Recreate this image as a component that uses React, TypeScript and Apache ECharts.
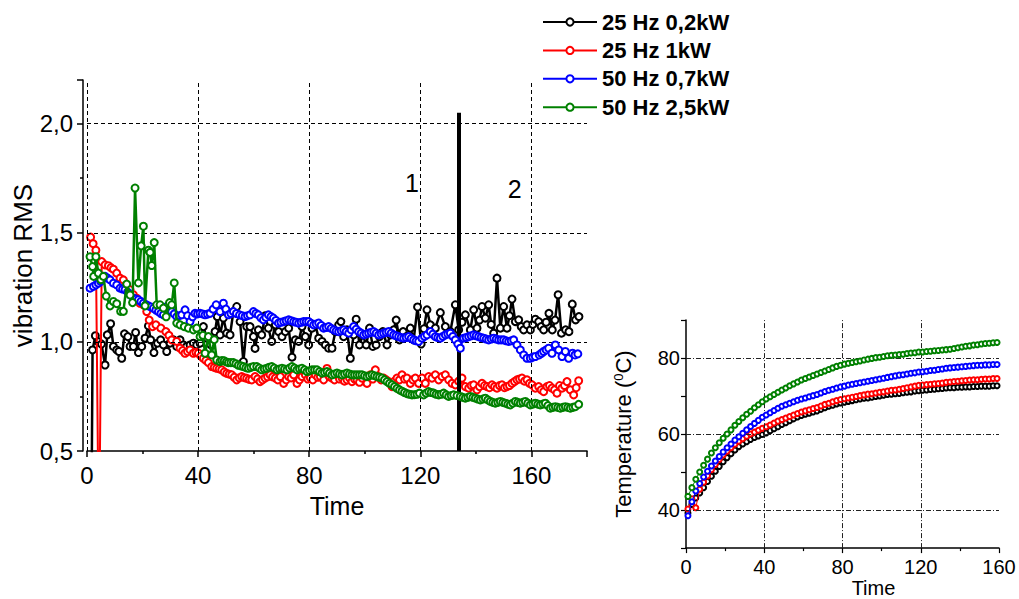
import React, { useEffect, useRef } from 'react';
import * as echarts from 'echarts';

const SERIES_NAMES = ['25 Hz 0,2kW', '25 Hz 1kW', '50 Hz 0,7kW', '50 Hz 2,5kW'];
const COLORS = ['#000000', '#ff0000', '#0000ff', '#008000'];

// Main chart: vibration RMS vs time, [time, value]
const VIB_BLACK: [number, number][] = [
  [1.5, 0.0], [2.0, 0.963], [3.0, 1.028], [4.1, 1.0], [5.2, 0.99], [6.5, 0.894], [7.3, 1.032], [8.5, 1.083],
  [9.5, 0.979], [10.7, 0.963], [11.5, 0.956], [12.5, 0.925], [13.5, 1.037], [14.7, 1.024], [15.5, 0.979],
  [16.7, 0.979], [17.5, 1.043], [18.5, 0.951], [19.7, 0.979], [20.9, 1.017], [22.1, 1.073], [22.9, 1.009],
  [24.1, 0.951], [25.4, 0.994], [26.5, 1.009], [27.5, 0.986], [28.7, 0.956], [29.9, 0.994], [31.1, 1.009],
  [32.3, 0.979], [33.5, 1.009], [34.7, 0.986], [35.9, 0.979], [37.1, 0.986], [38.3, 0.994], [39.5, 0.986],
  [40.7, 0.994], [41.9, 1.07], [43.1, 1.017], [44.6, 0.986], [46.1, 1.047], [46.9, 1.116], [47.9, 1.032],
  [49.1, 1.109], [50.3, 1.04], [51.5, 1.032], [52.7, 1.139], [53.9, 1.162], [55.1, 1.093], [56.3, 0.91],
  [57.5, 1.07], [58.7, 1.07], [59.9, 1.024], [60.5, 0.97], [61.7, 1.055], [62.9, 1.032], [64.1, 1.119],
  [65.3, 1.063], [66.5, 1.002], [67.8, 1.078], [69.0, 1.047], [70.2, 1.024], [71.4, 1.047], [72.6, 1.063],
  [73.8, 0.93], [75.0, 1.009], [76.2, 1.002], [77.4, 1.07], [78.6, 1.024], [79.8, 0.986], [81.0, 1.063],
  [82.2, 1.078], [83.4, 1.017], [84.6, 1.002], [85.8, 0.986], [87.0, 0.971], [88.2, 0.971], [89.4, 1.047],
  [90.6, 1.078], [91.4, 1.093], [92.4, 1.024], [93.6, 1.055], [94.8, 0.925], [96.0, 1.032], [96.9, 1.104],
  [98.1, 0.986], [99.3, 1.032], [100.5, 0.986], [101.7, 1.063], [102.9, 0.979], [104.1, 0.986], [105.3, 1.024],
  [106.5, 1.047], [108.0, 0.986], [109.2, 1.032], [110.4, 1.055], [111.3, 1.1], [112.5, 1.009], [113.8, 1.047],
  [115.0, 1.024], [116.4, 1.063], [117.6, 1.009], [119.0, 1.16], [120.3, 0.99], [121.3, 1.06], [122.4, 1.147],
  [123.6, 1.078], [125.4, 1.063], [127.2, 1.134], [129.0, 1.07], [130.8, 1.047], [132.6, 1.17], [133.8, 1.055],
  [135.0, 1.09], [136.2, 1.124], [138.0, 1.055], [139.2, 1.147], [140.4, 1.063], [141.3, 1.1], [142.2, 1.162],
  [143.4, 1.109], [144.6, 1.17], [145.5, 1.08], [146.4, 1.04], [147.6, 1.292], [148.8, 1.063], [150.0, 1.162],
  [151.2, 1.063], [152.1, 1.12], [153.0, 1.196], [154.2, 1.093], [155.4, 1.101], [156.3, 1.07], [157.2, 1.055],
  [158.4, 1.078], [159.6, 1.055], [160.5, 1.08], [161.4, 1.104], [162.6, 1.093], [163.5, 1.07], [164.4, 1.055],
  [165.3, 1.09], [166.3, 1.131], [167.5, 1.055], [168.5, 1.1], [169.6, 1.216], [170.8, 1.04], [172.3, 1.055],
  [173.5, 1.047], [174.7, 1.173], [175.9, 1.101], [177.1, 1.116],
];

const VIB_RED: [number, number][] = [
  [1.3, 1.48], [2.2, 1.45], [3.2, 1.42], [4.3, 0.0], [5.3, 1.368], [6.5, 1.353], [7.7, 1.349], [8.6, 1.34],
  [9.5, 1.333], [10.7, 1.315], [11.9, 1.292], [13.1, 1.284], [14.3, 1.254], [15.5, 1.239], [16.7, 1.216],
  [17.9, 1.2], [19.1, 1.177], [20.3, 1.17], [21.5, 1.139], [22.4, 1.1], [23.6, 1.07], [24.8, 1.078],
  [26.6, 1.063], [28.4, 1.047], [29.5, 1.03], [30.5, 1.009], [32.3, 1.002], [33.5, 0.971], [34.4, 0.96],
  [35.3, 0.948], [36.2, 0.955], [37.1, 0.963], [38.3, 0.948], [39.2, 0.952], [40.1, 0.948], [41.0, 0.935],
  [41.9, 0.925], [42.8, 0.915], [43.7, 0.905], [44.9, 0.887], [45.8, 0.883], [46.7, 0.879], [47.6, 0.876],
  [48.5, 0.872], [49.4, 0.862], [50.3, 0.856], [51.2, 0.852], [52.1, 0.849], [53.0, 0.838], [53.9, 0.826],
  [54.8, 0.835], [55.7, 0.841], [56.6, 0.836], [57.5, 0.833], [58.4, 0.828], [59.3, 0.826], [60.5, 0.841],
  [61.4, 0.83], [62.3, 0.818], [63.2, 0.826], [64.1, 0.834], [65.0, 0.84], [65.9, 0.849], [66.8, 0.84],
  [67.8, 0.834], [68.7, 0.826], [69.6, 0.841], [70.8, 0.81], [71.7, 0.826], [72.6, 0.841], [73.5, 0.835],
  [74.4, 0.849], [75.6, 0.81], [76.5, 0.826], [77.4, 0.841], [78.6, 0.849], [79.5, 0.83], [80.4, 0.834],
  [81.3, 0.826], [82.2, 0.849], [83.1, 0.838], [84.0, 0.841], [85.2, 0.826], [86.4, 0.878], [87.3, 0.84],
  [88.2, 0.834], [89.1, 0.826], [90.0, 0.849], [90.9, 0.83], [91.8, 0.834], [92.7, 0.82], [93.6, 0.826],
  [94.5, 0.834], [95.4, 0.818], [96.3, 0.83], [97.2, 0.826], [98.1, 0.815], [99.0, 0.834], [100.8, 0.81],
  [102.0, 0.849], [102.9, 0.83], [103.8, 0.872], [105.0, 0.841], [105.9, 0.826], [106.8, 0.834], [107.7, 0.826],
  [108.6, 0.818], [109.8, 0.795], [110.7, 0.82], [111.6, 0.834], [112.5, 0.826], [113.4, 0.849], [114.3, 0.83],
  [115.2, 0.834], [116.4, 0.81], [117.3, 0.826], [118.2, 0.834], [119.4, 0.81], [120.6, 0.834], [121.8, 0.81],
  [123.0, 0.841], [124.2, 0.834], [125.4, 0.849], [126.6, 0.826], [127.8, 0.841], [129.0, 0.849],
  [130.2, 0.826], [131.4, 0.81], [132.6, 0.803], [133.8, 0.82], [135.0, 0.834], [136.2, 0.795], [137.4, 0.788],
  [138.3, 0.8], [139.2, 0.803], [140.4, 0.78], [141.3, 0.795], [142.2, 0.81], [143.1, 0.8], [144.0, 0.795],
  [144.9, 0.79], [145.8, 0.803], [146.7, 0.795], [147.6, 0.788], [148.5, 0.8], [149.4, 0.803], [150.3, 0.79],
  [151.2, 0.795], [152.1, 0.8], [153.0, 0.81], [153.9, 0.818], [154.8, 0.826], [155.7, 0.83], [156.6, 0.834],
  [157.5, 0.82], [158.4, 0.826], [159.3, 0.81], [160.2, 0.803], [161.4, 0.788], [162.6, 0.795], [163.5, 0.78],
  [164.4, 0.772], [165.6, 0.795], [166.5, 0.8], [167.4, 0.788], [168.3, 0.78], [169.2, 0.765], [170.1, 0.8],
  [171.0, 0.788], [171.9, 0.8], [172.8, 0.818], [174.0, 0.78], [175.2, 0.757], [176.1, 0.79], [177.0, 0.822],
];

const VIB_BLUE: [number, number][] = [
  [1.1, 1.246], [2.3, 1.254], [3.2, 1.261], [4.1, 1.269], [4.9, 1.277], [5.7, 1.29], [6.5, 1.3], [7.4, 1.292],
  [8.3, 1.284], [9.5, 1.269], [10.7, 1.261], [11.9, 1.246], [12.8, 1.242], [13.7, 1.239], [14.6, 1.228],
  [15.5, 1.216], [16.7, 1.2], [17.6, 1.196], [18.5, 1.193], [19.4, 1.185], [20.3, 1.177], [21.2, 1.171],
  [22.1, 1.165], [23.0, 1.16], [23.9, 1.154], [24.8, 1.146], [25.7, 1.139], [26.6, 1.13], [27.5, 1.124],
  [28.7, 1.162], [29.6, 1.15], [30.5, 1.139], [31.4, 1.128], [32.3, 1.116], [33.2, 1.12], [34.1, 1.124],
  [35.3, 1.147], [36.2, 1.12], [37.1, 1.093], [38.0, 1.115], [38.9, 1.131], [39.8, 1.128], [40.7, 1.131],
  [41.6, 1.128], [42.5, 1.124], [43.4, 1.127], [44.3, 1.131], [45.4, 1.15], [46.5, 1.17], [47.9, 1.139],
  [49.1, 1.177], [50.0, 1.15], [50.9, 1.124], [51.8, 1.13], [52.7, 1.139], [53.8, 1.13], [54.9, 1.124],
  [55.9, 1.12], [56.9, 1.116], [57.8, 1.12], [58.7, 1.124], [59.9, 1.139], [60.8, 1.13], [61.7, 1.124],
  [62.6, 1.11], [63.5, 1.101], [64.4, 1.112], [65.3, 1.124], [66.2, 1.116], [67.1, 1.109], [68.0, 1.098],
  [68.9, 1.086], [69.8, 1.09], [70.8, 1.093], [71.7, 1.097], [72.6, 1.101], [73.5, 1.097], [74.4, 1.093],
  [75.3, 1.09], [76.2, 1.086], [77.1, 1.09], [78.0, 1.093], [78.9, 1.093], [79.8, 1.093], [80.7, 1.085],
  [81.6, 1.078], [82.5, 1.082], [83.4, 1.086], [84.3, 1.075], [85.2, 1.063], [86.1, 1.066], [87.0, 1.07],
  [87.9, 1.062], [88.8, 1.055], [89.7, 1.05], [90.6, 1.047], [91.5, 1.051], [92.4, 1.055], [93.3, 1.047],
  [94.2, 1.04], [95.1, 1.055], [96.0, 1.07], [96.9, 1.058], [97.8, 1.047], [98.7, 1.04], [99.6, 1.032],
  [100.5, 1.036], [101.4, 1.04], [102.3, 1.044], [103.2, 1.047], [104.1, 1.04], [105.0, 1.032], [105.9, 1.036],
  [106.8, 1.04], [107.7, 1.044], [108.6, 1.047], [109.5, 1.04], [110.4, 1.032], [111.3, 1.028], [112.2, 1.024],
  [113.1, 1.02], [114.0, 1.017], [114.9, 1.02], [115.8, 1.024], [116.7, 1.016], [117.6, 1.009], [118.5, 1.005],
  [119.4, 1.002], [120.6, 1.017], [121.5, 1.025], [122.4, 1.032], [123.6, 1.047], [124.5, 1.035], [125.4, 1.024],
  [126.3, 1.02], [127.2, 1.017], [128.1, 1.025], [129.0, 1.032], [129.9, 1.036], [130.8, 1.04], [131.7, 1.025],
  [132.6, 1.009], [133.5, 0.99], [134.4, 0.971], [135.6, 1.017], [136.5, 1.02], [137.4, 1.024], [138.3, 1.028],
  [139.2, 1.032], [140.1, 1.028], [141.0, 1.024], [141.9, 1.02], [142.8, 1.017], [143.7, 1.013], [144.6, 1.009],
  [145.5, 1.013], [146.4, 1.017], [147.3, 1.013], [148.2, 1.009], [149.1, 1.009], [150.0, 1.009], [150.9, 1.005],
  [151.8, 1.002], [152.7, 1.005], [153.6, 1.009], [154.8, 0.986], [156.0, 0.963], [157.2, 0.94], [158.4, 0.925],
  [159.6, 0.925], [160.5, 0.93], [161.4, 0.933], [162.8, 0.94], [163.6, 0.948], [164.4, 0.956], [165.3, 0.963],
  [166.2, 0.971], [167.4, 0.948], [168.6, 0.986], [169.8, 0.963], [171.0, 0.933], [172.2, 0.956], [173.4, 0.925],
  [174.8, 0.948], [175.7, 0.94], [176.7, 0.945],
];

const VIB_GREEN: [number, number][] = [
  [1.1, 1.39], [2.0, 1.345], [2.4, 1.3], [3.2, 1.39], [4.1, 1.315], [5.0, 1.285], [5.9, 1.3], [6.9, 1.21],
  [8.3, 1.165], [9.5, 1.185], [10.7, 1.175], [12.1, 1.14], [13.1, 1.14], [14.3, 1.265], [15.5, 1.215],
  [16.4, 1.18], [17.3, 1.705], [18.5, 1.27], [19.5, 1.44], [20.3, 1.53], [20.9, 1.165], [22.1, 1.42],
  [22.7, 1.41], [23.3, 1.35], [24.2, 1.455], [25.1, 1.17], [26.3, 1.17], [27.5, 1.155], [28.5, 1.115],
  [29.7, 1.18], [30.5, 1.17], [31.4, 1.27], [32.3, 1.086], [33.5, 1.078], [35.0, 1.07], [36.5, 1.063],
  [38.3, 1.055], [39.5, 1.063], [40.7, 1.024], [41.7, 1.03], [42.5, 0.948], [43.7, 1.024], [44.9, 0.94],
  [45.8, 1.01], [46.7, 0.917], [47.9, 0.91], [48.6, 0.915], [49.4, 0.913], [50.2, 0.908], [50.9, 0.905],
  [51.8, 0.905], [52.7, 0.905], [53.6, 0.9], [54.5, 0.893], [55.4, 0.89], [56.3, 0.887], [57.2, 0.882],
  [58.1, 0.879], [59.0, 0.883], [59.9, 0.887], [61.1, 0.887], [62.0, 0.88], [62.9, 0.872], [63.8, 0.876],
  [64.7, 0.879], [65.6, 0.884], [66.5, 0.887], [67.4, 0.88], [68.4, 0.872], [69.3, 0.876], [70.2, 0.879],
  [71.1, 0.876], [72.0, 0.872], [72.9, 0.88], [73.8, 0.887], [74.7, 0.88], [75.6, 0.872], [76.5, 0.876],
  [77.4, 0.879], [78.3, 0.872], [79.2, 0.864], [80.1, 0.868], [81.0, 0.872], [81.9, 0.872], [82.8, 0.872],
  [83.7, 0.864], [84.6, 0.857], [85.5, 0.86], [86.4, 0.864], [87.3, 0.857], [88.2, 0.849], [89.1, 0.853],
  [90.0, 0.857], [90.9, 0.853], [91.8, 0.849], [92.7, 0.853], [93.6, 0.857], [94.5, 0.853], [95.4, 0.849],
  [96.3, 0.849], [97.2, 0.849], [98.1, 0.849], [99.0, 0.849], [99.9, 0.845], [100.8, 0.841], [101.7, 0.845],
  [102.6, 0.849], [103.5, 0.845], [104.4, 0.841], [105.3, 0.838], [106.2, 0.834], [107.1, 0.826], [108.0, 0.818],
  [108.9, 0.81], [109.8, 0.803], [110.7, 0.795], [111.6, 0.787], [112.5, 0.78], [113.4, 0.774], [114.3, 0.768],
  [115.2, 0.763], [116.1, 0.76], [117.0, 0.757], [117.9, 0.758], [118.8, 0.76], [119.7, 0.765], [121.2, 0.757],
  [122.1, 0.765], [123.0, 0.772], [123.9, 0.768], [124.8, 0.765], [125.7, 0.76], [126.6, 0.757], [127.5, 0.76],
  [128.4, 0.765], [129.3, 0.757], [130.2, 0.75], [131.1, 0.754], [132.0, 0.757], [133.2, 0.754], [134.4, 0.75],
  [135.3, 0.746], [136.2, 0.742], [137.1, 0.746], [138.0, 0.75], [138.9, 0.746], [139.8, 0.742], [140.7, 0.738],
  [141.6, 0.734], [142.5, 0.738], [143.4, 0.742], [144.3, 0.734], [145.2, 0.727], [146.1, 0.723], [147.0, 0.719],
  [147.9, 0.723], [148.8, 0.727], [149.7, 0.723], [150.6, 0.719], [151.5, 0.715], [152.4, 0.711], [153.3, 0.719],
  [154.2, 0.727], [155.1, 0.723], [156.0, 0.719], [156.9, 0.723], [157.8, 0.727], [158.7, 0.719], [159.6, 0.711],
  [160.5, 0.715], [161.4, 0.719], [162.3, 0.715], [163.2, 0.711], [164.1, 0.715], [165.0, 0.719], [165.9, 0.708],
  [166.8, 0.696], [167.7, 0.7], [168.6, 0.703], [169.5, 0.7], [170.4, 0.696], [171.3, 0.7], [172.2, 0.703],
  [173.1, 0.7], [174.0, 0.696], [174.9, 0.7], [175.8, 0.703], [177.0, 0.714],
];

// Small chart: temperature vs time
const TEMP_TIME = [
  1, 3, 5, 7, 9, 11, 13, 15, 17, 19, 21, 23, 25, 27, 29, 31, 33, 35, 37, 39,
  41, 43, 45, 47, 49, 51, 53, 55, 57, 59, 61, 63, 65, 67, 69, 71, 73, 75, 77, 79,
  81, 83, 85, 87, 89, 91, 93, 95, 97, 99, 101, 103, 105, 107, 109, 111, 113, 115, 117, 119,
  121, 123, 125, 127, 129, 131, 133, 135, 137, 139, 141, 143, 145, 147, 149, 151, 153, 155, 157, 159,
];
const TEMP_BLACK = [
  39.2, 41.5, 43.2, 44.5, 45.9, 47.5, 48.9, 50.2, 51.5, 52.7, 53.8, 54.8, 55.8, 56.7, 57.4, 58.0, 58.6, 59.1, 59.5, 59.9,
  60.3, 60.9, 61.4, 61.9, 62.5, 63.0, 63.5, 64.0, 64.5, 64.9, 65.2, 65.5, 65.8, 66.1, 66.5, 66.9, 67.3, 67.6, 67.9, 68.2,
  68.4, 68.6, 68.8, 69.0, 69.2, 69.4, 69.5, 69.7, 69.9, 70.0, 70.2, 70.4, 70.5, 70.6, 70.7, 70.9, 71.0, 71.1, 71.3, 71.4,
  71.5, 71.6, 71.7, 71.8, 71.9, 72.0, 72.1, 72.2, 72.2, 72.3, 72.3, 72.4, 72.4, 72.5, 72.5, 72.6, 72.6, 72.6, 72.7, 72.7,
];
const TEMP_RED = [
  40.3, 43.0, 40.6, 45.5, 47.3, 49.0, 50.6, 52.0, 53.3, 54.5, 55.5, 56.4, 57.3, 58.1, 58.8, 59.4, 60.0, 60.5, 61.0, 61.5,
  61.9, 62.4, 62.9, 63.4, 63.8, 64.2, 64.6, 65.0, 65.4, 65.8, 66.1, 66.4, 66.7, 67.0, 67.4, 67.8, 68.1, 68.5, 68.8, 69.1,
  69.3, 69.5, 69.7, 69.9, 70.1, 70.3, 70.5, 70.6, 70.8, 71.0, 71.1, 71.3, 71.5, 71.6, 71.8, 72.0, 72.2, 72.4, 72.6, 72.8,
  72.9, 73.0, 73.1, 73.2, 73.3, 73.4, 73.6, 73.7, 73.8, 73.9, 74.0, 74.1, 74.2, 74.3, 74.3, 74.4, 74.5, 74.5, 74.6, 74.6,
];
const TEMP_BLUE = [
  38.5, 42.2, 45.0, 47.0, 48.7, 50.2, 51.6, 52.9, 54.1, 55.3, 56.4, 57.4, 58.4, 59.3, 60.2, 61.1, 62.0, 62.8, 63.6, 64.4,
  65.0, 65.6, 66.2, 66.8, 67.3, 67.7, 68.1, 68.5, 68.9, 69.2, 69.5, 69.8, 70.1, 70.4, 70.8, 71.2, 71.5, 71.8, 72.1, 72.4,
  72.6, 72.9, 73.1, 73.3, 73.5, 73.7, 73.9, 74.1, 74.3, 74.5, 74.7, 74.9, 75.1, 75.3, 75.5, 75.6, 75.8, 76.0, 76.1, 76.3,
  76.4, 76.5, 76.7, 76.8, 77.0, 77.1, 77.3, 77.4, 77.5, 77.6, 77.7, 77.8, 77.9, 78.0, 78.1, 78.1, 78.2, 78.2, 78.3, 78.3,
];
const TEMP_GREEN = [
  43.6, 45.9, 48.1, 50.0, 51.8, 53.4, 55.0, 56.4, 57.7, 58.9, 60.0, 61.1, 62.3, 63.3, 64.3, 65.2, 66.0, 66.9, 67.7, 68.5,
  69.2, 69.8, 70.4, 71.0, 71.6, 72.1, 72.7, 73.2, 73.7, 74.2, 74.6, 75.0, 75.4, 75.8, 76.2, 76.6, 77.0, 77.4, 77.8, 78.1,
  78.4, 78.6, 78.8, 79.0, 79.2, 79.5, 79.7, 79.9, 80.1, 80.2, 80.4, 80.6, 80.7, 80.8, 80.9, 81.0, 81.2, 81.3, 81.4, 81.6,
  81.6, 81.7, 81.8, 81.9, 82.0, 82.1, 82.2, 82.3, 82.5, 82.7, 82.9, 83.1, 83.2, 83.4, 83.5, 83.7, 83.8, 83.9, 84.0, 84.1,
];

const MAIN_X_GRID = [0, 40, 80, 120, 160];
const MAIN_Y_GRID = [1.0, 1.5, 2.0];
const SMALL_X_GRID = [40, 80, 120];
const SMALL_Y_GRID = [40, 60, 80];
const DIVIDER_X = 134;
const DIVIDER_Y = [0.5, 2.05];
const REGION_LABELS = [
  { name: '1', t: 117, v: 1.73 },
  { name: '2', t: 154, v: 1.7 },
];

const FONT = '"Liberation Sans", Arial, Helvetica, sans-serif';

export default function App() {
  const ref = useRef<HTMLDivElement>(null);
  useEffect(() => {
    if (!ref.current) return;
    const chart = echarts.init(ref.current, undefined, { renderer: 'svg' });
    const vib = [VIB_BLACK, VIB_RED, VIB_BLUE, VIB_GREEN];
    const temps = [TEMP_BLACK, TEMP_RED, TEMP_BLUE, TEMP_GREEN];
    const axisLine = { show: true, onZero: false, lineStyle: { color: '#000', width: 1.5 } };

    const mainSeries = SERIES_NAMES.map((name, i) => ({
      name,
      type: 'line',
      xAxisIndex: 0,
      yAxisIndex: 0,
      data: vib[i],
      symbol: 'emptyCircle',
      symbolSize: 7,
      clip: true,
      z: 3 + i,
      lineStyle: { color: COLORS[i], width: [2.5, 2, 1.5, 2.5][i] },
      itemStyle: { color: COLORS[i], borderWidth: 1.2 },
      emphasis: { disabled: true },
    }));

    const tempSeries = SERIES_NAMES.map((name, i) => ({
      name,
      type: 'line',
      xAxisIndex: 1,
      yAxisIndex: 1,
      data: TEMP_TIME.map((t, k) => [t, temps[i][k]]),
      symbol: 'emptyCircle',
      symbolSize: 5,
      z: 3 + i,
      lineStyle: { color: COLORS[i], width: 1 },
      itemStyle: { color: COLORS[i], borderWidth: 1 },
      emphasis: { disabled: true },
    }));

    const option: any = {
      animation: false,
      textStyle: { fontFamily: FONT },
      legend: {
        data: SERIES_NAMES,
        orient: 'vertical',
        left: 537,
        top: 6,
        itemWidth: 54,
        itemHeight: 9,
        itemGap: 6.4,
        selectedMode: false,
        textStyle: { fontSize: 22, fontWeight: 'bold', color: '#000', fontFamily: FONT },
      },
      grid: [
        { left: 87, top: 80, width: 500, height: 371 },
        { left: 686, top: 320, width: 313, height: 231 },
      ],
      xAxis: [
        {
          type: 'value', gridIndex: 0, min: 0, max: 180, interval: 40,
          name: 'Time', nameLocation: 'middle', nameGap: 42,
          nameTextStyle: { fontSize: 25, color: '#000', fontFamily: FONT },
          axisLine,
          axisTick: { show: true, length: 6, lineStyle: { color: '#000', width: 1.5 } },
          minorTick: { show: true, splitNumber: 2, length: 3, lineStyle: { color: '#000', width: 1.5 } },
          axisLabel: { fontSize: 24, color: '#000', margin: 12, fontFamily: FONT, formatter: (v: number) => (v > 170 ? '' : String(v)) },
          splitLine: { show: false },
        },
        {
          type: 'value', gridIndex: 1, min: 0, max: 160, interval: 40,
          name: 'Time', nameLocation: 'middle', nameGap: 26,
          nameTextStyle: { fontSize: 20, color: '#000', fontFamily: FONT, padding: [0, 0, 0, 62] },
          axisLine,
          axisTick: { show: true, length: 5, lineStyle: { color: '#000', width: 1.2 } },
          minorTick: { show: true, splitNumber: 2, length: 3, lineStyle: { color: '#000', width: 1.2 } },
          axisLabel: { fontSize: 20, color: '#000', margin: 9, fontFamily: FONT },
          splitLine: { show: false },
        },
      ],
      yAxis: [
        {
          type: 'value', gridIndex: 0, min: 0.5, max: 2.2, interval: 0.5, offset: 4,
          name: 'vibration RMS', nameLocation: 'middle', nameGap: 46,
          nameTextStyle: { fontSize: 26, color: '#000', fontFamily: FONT },
          axisLine,
          axisTick: { show: true, length: 6, lineStyle: { color: '#000', width: 1.5 } },
          minorTick: { show: true, splitNumber: 2, length: 3, lineStyle: { color: '#000', width: 1.5 } },
          axisLabel: {
            fontSize: 24, color: '#000', margin: 10, fontFamily: FONT,
            formatter: (v: number) => (v > 2.1 ? '' : v.toFixed(1).replace('.', ',')),
          },
          splitLine: { show: false },
        },
        {
          type: 'value', gridIndex: 1, min: 30, max: 90, interval: 10,
          name: 'Temperature ({sup|0}C)', nameLocation: 'middle', nameGap: 52,
          nameTextStyle: {
            fontSize: 22, color: '#000', fontFamily: FONT,
            rich: { sup: { fontSize: 13, verticalAlign: 'top', color: '#000', fontFamily: FONT, padding: [0, 0, 9, 0] } },
          },
          axisLine,
          axisTick: { show: true, length: 5, lineStyle: { color: '#000', width: 1.2 } },
          axisLabel: {
            fontSize: 20, color: '#000', margin: 6, fontFamily: FONT,
            formatter: (v: number) => (v % 20 === 0 ? String(v) : ''),
          },
          splitLine: { show: false },
        },
      ],
      series: [
        {
          type: 'line', xAxisIndex: 0, yAxisIndex: 0, data: [], z: 1, silent: true,
          markLine: {
            silent: true, symbol: ['none', 'none'], label: { show: false }, animation: false,
            lineStyle: { color: '#000', type: [4, 3], width: 1 },
            emphasis: { disabled: true },
            data: [...MAIN_X_GRID.map((x) => ({ xAxis: x })), ...MAIN_Y_GRID.map((y) => ({ yAxis: y }))],
          },
        },
        {
          type: 'line', xAxisIndex: 1, yAxisIndex: 1, data: [], z: 1, silent: true,
          markLine: {
            silent: true, symbol: ['none', 'none'], label: { show: false }, animation: false,
            lineStyle: { color: '#222', type: [5, 2, 1, 2], width: 1 },
            emphasis: { disabled: true },
            data: [...SMALL_X_GRID.map((x) => ({ xAxis: x })), ...SMALL_Y_GRID.map((y) => ({ yAxis: y }))],
          },
        },
        ...mainSeries,
        ...tempSeries,
        {
          type: 'line', xAxisIndex: 0, yAxisIndex: 0, data: [], z: 10, silent: true,
          markLine: {
            silent: true, symbol: ['none', 'none'], label: { show: false }, animation: false,
            lineStyle: { color: '#000', type: 'solid', width: 4 },
            emphasis: { disabled: true },
            data: [[{ coord: [DIVIDER_X, DIVIDER_Y[0]] }, { coord: [DIVIDER_X, DIVIDER_Y[1]] }]],
          },
          markPoint: {
            silent: true, symbol: 'circle', symbolSize: 1, animation: false,
            itemStyle: { color: 'rgba(0,0,0,0)' },
            label: { show: true, position: 'inside', fontSize: 25, color: '#000', fontFamily: FONT, formatter: (p: any) => p.name },
            data: REGION_LABELS.map((r) => ({ name: r.name, coord: [r.t, r.v] })),
          },
        },
      ],
    };
    chart.setOption(option);
    return () => chart.dispose();
  }, []);
  return (
    <div
      ref={ref}
      style={{ position: 'fixed', left: 0, top: 0, width: 1019, height: 599, background: '#fff' }}
    />
  );
}
